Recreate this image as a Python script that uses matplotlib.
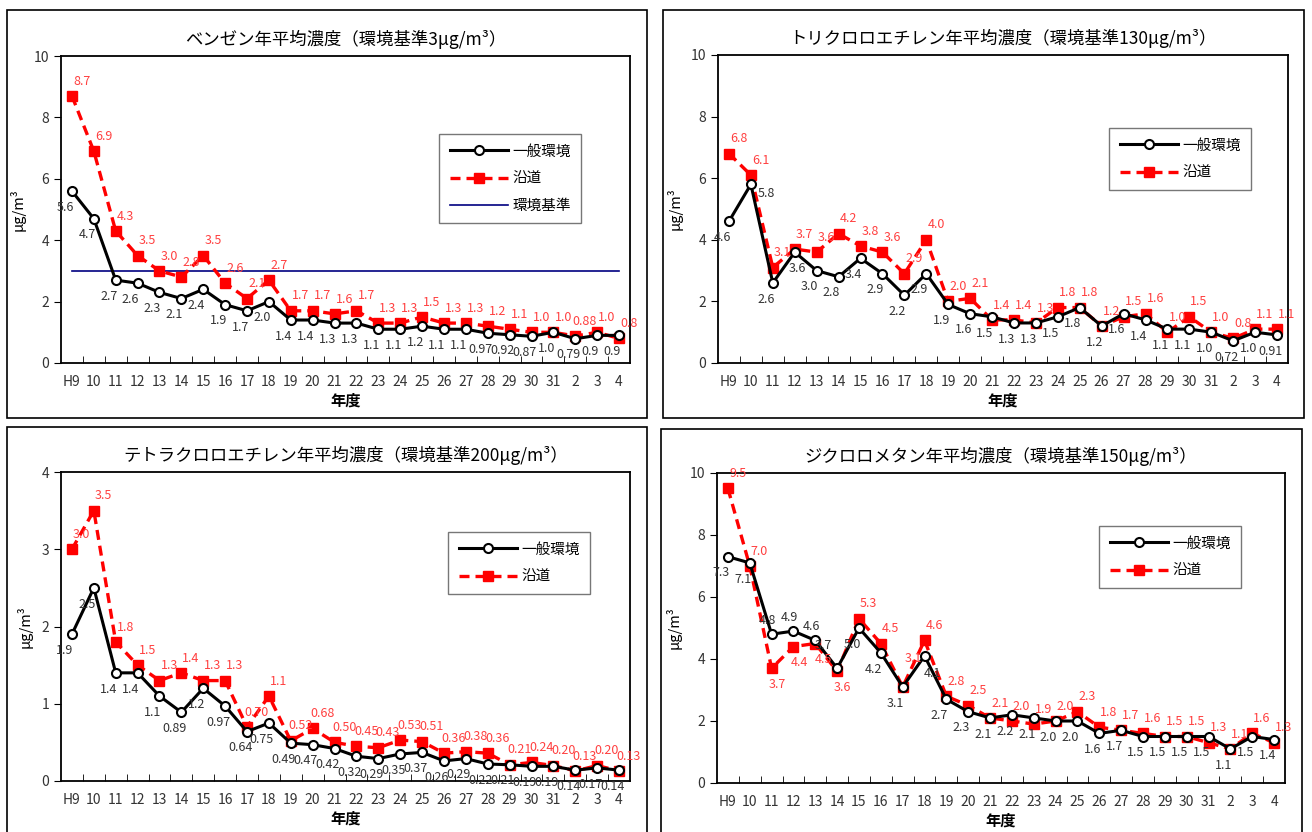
import matplotlib
matplotlib.use("Agg")
import matplotlib.pyplot as plt
from matplotlib.patches import Rectangle

plt.rcParams['font.family'] = ['Noto Sans CJK JP', 'DejaVu Sans']

years = ["H9", "10", "11", "12", "13", "14", "15", "16", "17", "18", "19", "20", "21",
         "22", "23", "24", "25", "26", "27", "28", "29", "30", "31", "2", "3", "4"]

benzene_gen = [5.6, 4.7, 2.7, 2.6, 2.3, 2.1, 2.4, 1.9, 1.7, 2.0, 1.4, 1.4, 1.3,
               1.3, 1.1, 1.1, 1.2, 1.1, 1.1, 0.97, 0.92, 0.87, 1.0, 0.79, 0.9, 0.9]
benzene_road = [8.7, 6.9, 4.3, 3.5, 3.0, 2.8, 3.5, 2.6, 2.1, 2.7, 1.7, 1.7, 1.6,
                1.7, 1.3, 1.3, 1.5, 1.3, 1.3, 1.2, 1.1, 1.0, 1.0, 0.88, 1.0, 0.8]
benzene_std = 3

tce_gen = [4.6, 5.8, 2.6, 3.6, 3.0, 2.8, 3.4, 2.9, 2.2, 2.9, 1.9, 1.6, 1.5,
           1.3, 1.3, 1.5, 1.8, 1.2, 1.6, 1.4, 1.1, 1.1, 1.0, 0.72, 1.0, 0.91]
tce_road = [6.8, 6.1, 3.1, 3.7, 3.6, 4.2, 3.8, 3.6, 2.9, 4.0, 2.0, 2.1, 1.4,
            1.4, 1.3, 1.8, 1.8, 1.2, 1.5, 1.6, 1.0, 1.5, 1.0, 0.80, 1.1, 1.1]

pce_gen = [1.9, 2.5, 1.4, 1.4, 1.1, 0.89, 1.2, 0.97, 0.64, 0.75, 0.49, 0.47, 0.42,
           0.32, 0.29, 0.35, 0.37, 0.26, 0.29, 0.22, 0.21, 0.19, 0.19, 0.14, 0.17, 0.14]
pce_road = [3.0, 3.5, 1.8, 1.5, 1.3, 1.4, 1.3, 1.3, 0.70, 1.1, 0.52, 0.68, 0.50,
            0.45, 0.43, 0.53, 0.51, 0.36, 0.38, 0.36, 0.21, 0.24, 0.20, 0.13, 0.20, 0.13]

dcm_gen = [7.3, 7.1, 4.8, 4.9, 4.6, 3.7, 5.0, 4.2, 3.1, 4.1, 2.7, 2.3, 2.1,
           2.2, 2.1, 2.0, 2.0, 1.6, 1.7, 1.5, 1.5, 1.5, 1.5, 1.1, 1.5, 1.4]
dcm_road = [9.5, 7.0, 3.7, 4.4, 4.5, 3.6, 5.3, 4.5, 3.1, 4.6, 2.8, 2.5, 2.1,
            2.0, 1.9, 2.0, 2.3, 1.8, 1.7, 1.6, 1.5, 1.5, 1.3, 1.1, 1.6, 1.3]

W, H = 1312, 832
fig = plt.figure(figsize=(W / 100, H / 100), dpi=100)


def px_rect(l, t, r, b):
    return [l / W, 1 - b / H, (r - l) / W, (b - t) / H]


def fmt(v):
    if v < 1 and v not in (0.9, 0.8):
        return "%.2f" % v
    return "%.1f" % v


def label(ax, v, i, off, color):
    ax.annotate(fmt(v), (i, v), xytext=off, textcoords='offset points',
                ha='center', va='bottom' if off[1] > 0 else 'top',
                fontsize=9, color=color)


def panel(box, plot, title, gen, road, ymax, ystep, legend_box, std=None,
          swap=(), moves=None):
    moves = moves or {}
    # outer frame
    l, t, r, b = box
    fig.patches.append(Rectangle((l / W, 1 - b / H), (r - l) / W, (b - t) / H,
                                 transform=fig.transFigure, fill=False,
                                 edgecolor='black', linewidth=1.2))
    ax = fig.add_axes(px_rect(*plot))
    x = list(range(len(years)))
    h1, = ax.plot(x, gen, color='black', lw=2.2, marker='o', ms=6.5, mfc='white',
                  mec='black', mew=1.5, label='一般環境', zorder=3)
    h2, = ax.plot(x, road, color='#FF0000', lw=2.4, ls=(0, (3, 1.8)), marker='s', ms=7.5,
                  mfc='#FF0000', mec='#FF0000', label='沿道', zorder=2)
    handles = [h1, h2]
    if std is not None:
        h3, = ax.plot([0, len(years) - 1], [std, std], color='#000080', lw=1.2,
                      label='環境基準', zorder=1)
        handles.append(h3)
    for i in x:
        if i not in swap:
            ro, go = (7, 6), (-5, -7)
        else:
            ro, go = (4, -7), (-3, 5)
        label(ax, road[i], i, moves.get(('r', i), ro), '#FF4040')
        label(ax, gen[i], i, moves.get(('g', i), go), '#333333')
    ax.set_xlim(-0.5, len(years) - 0.5)
    ax.set_ylim(0, ymax)
    ax.set_yticks([v * ystep for v in range(int(ymax / ystep) + 1)])
    ax.set_xticks(x)
    ax.set_xticklabels(years)
    ax.set_xticks([i + 0.5 for i in range(len(years) - 1)], minor=True)
    ax.tick_params(axis='x', which='major', length=0, labelsize=10,
                   colors='#333333', pad=9)
    ax.tick_params(axis='x', which='minor', direction='in', length=5)
    ax.tick_params(axis='y', direction='out', length=5, labelsize=10,
                   labelcolor='#333333')
    for s in ax.spines.values():
        s.set_linewidth(1.3)
    ax.set_xlabel('年度', fontsize=11, fontweight='bold', labelpad=2)
    ax.set_ylabel('μg/m³', fontsize=10.5, labelpad=6)
    ax.set_title(title, fontsize=12.5, pad=8)
    ll, lt, lr, lb = legend_box
    x0, y0 = (ll - plot[0]) / (plot[2] - plot[0]), 1 - (lt - plot[1]) / (plot[3] - plot[1])
    leg = ax.legend(handles=handles, loc='upper left', bbox_to_anchor=(x0, y0),
                    frameon=True, fancybox=False, edgecolor='#555555', fontsize=10.5,
                    handlelength=4.0, labelspacing=0.9, borderpad=0.7,
                    handletextpad=0.3)
    leg.get_frame().set_linewidth(1.0)
    return ax


panel((7, 10, 647, 418), (61, 56, 630, 363),
      'ベンゼン年平均濃度（環境基準3μg/m³）', benzene_gen, benzene_road,
      10, 2, (432, 127, 577, 206), std=benzene_std)
panel((663, 10, 1304, 418), (718, 55, 1288, 363),
      'トリクロロエチレン年平均濃度（環境基準130μg/m³）', tce_gen, tce_road,
      10, 2, (1102, 121, 1252, 181), moves={('g', 1): (11, -2), ('g', 3): (2, -7)})
panel((7, 427, 647, 840), (61, 472, 630, 781),
      'テトラクロロエチレン年平均濃度（環境基準200μg/m³）', pce_gen, pce_road,
      4, 1, (441, 525, 593, 597))
panel((661, 429, 1302, 840), (717, 473, 1285, 783),
      'ジクロロメタン年平均濃度（環境基準150μg/m³）', dcm_gen, dcm_road,
      10, 2, (1092, 519, 1241, 587), swap=(2, 3, 4, 5),
      moves={('g', 5): (-10, 12), ('r', 8): (8, 16), ('g', 9): (6, -8),
             ('r', 4): (6, -7)})

plt.savefig("out.png", dpi=100)
